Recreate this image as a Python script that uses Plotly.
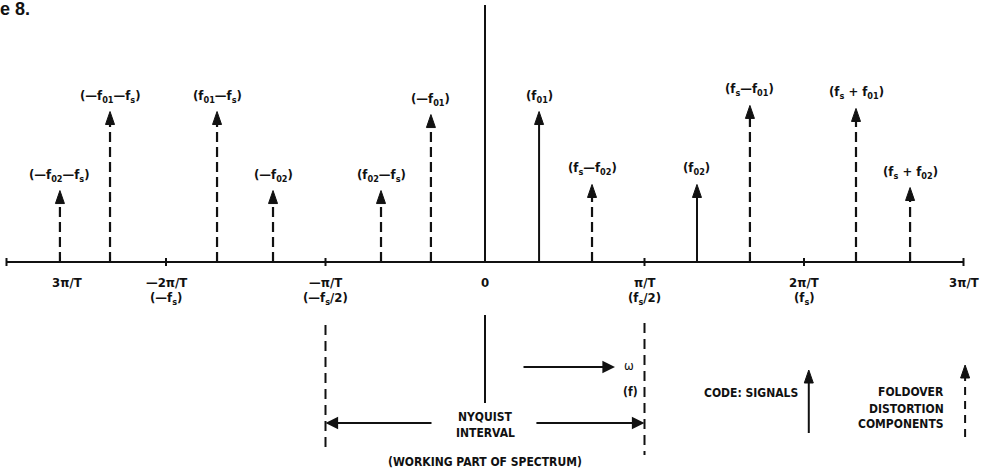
import plotly.graph_objects as go

# ---------------- data ----------------
arrow_labels = [
    "(—f<sub>02</sub>—f<sub>s</sub>)", "(—f<sub>01</sub>—f<sub>s</sub>)", "(f<sub>01</sub>—f<sub>s</sub>)",
    "(—f<sub>02</sub>)", "(f<sub>02</sub>—f<sub>s</sub>)", "(—f<sub>01</sub>)", "(f<sub>01</sub>)",
    "(f<sub>s</sub>—f<sub>02</sub>)", "(f<sub>02</sub>)", "(f<sub>s</sub>—f<sub>01</sub>)",
    "(f<sub>s</sub> + f<sub>01</sub>)", "(f<sub>s</sub> + f<sub>02</sub>)",
]
arrow_pos = [-2.665, -2.351, -1.680, -1.329, -0.652, -0.339, 0.339, 0.671, 1.329, 1.661, 2.326, 2.665]
arrow_height = [0.47, 0.99, 0.99, 0.47, 0.47, 0.97, 0.99, 0.51, 0.51, 1.03, 1.01, 0.49]
arrow_kind = ["fold", "fold", "fold", "fold", "fold", "fold", "signal", "fold", "signal", "fold", "fold", "fold"]

tick_pos = [-3, -2, -1, 1, 2, 3]
tick_label_pos = [-2.62, -2, -1, 0, 1, 2, 3]
tick_label_top = ["3π/T", "—2π/T", "—π/T", "0", "π/T", "2π/T", "3π/T"]
tick_label_bottom = ["", "(—f<sub>s</sub>)", "(—f<sub>s</sub>/2)", "", "(f<sub>s</sub>/2)", "(f<sub>s</sub>)", ""]

# ---------------- geometry / style ----------------
PXX = 159.5   # px per x unit
PXY = 152.0   # px per y unit
W, H = 985, 470
X0, Y0 = 485, 262
xr = [(0 - X0) / PXX, (W - X0) / PXX]
yr = [-(H - Y0) / PXY, Y0 / PXY]

HEAD_HW = 4.5 / PXX
HEAD_L = 13 / PXY

FONT = "Liberation Sans Narrow, DejaVu Sans Condensed, Arial Narrow, sans-serif"
BLACK = "#111111"

fig = go.Figure()


def add_arrow_set(xs, tips, dashed, width=2.0, base=None, dash="10px,5px"):
    sx, sy, hx, hy = [], [], [], []
    for i, (x, t) in enumerate(zip(xs, tips)):
        b = 0 if base is None else base[i]
        sx += [x, x, None]
        sy += [b, t - HEAD_L * 0.8, None]
        hx += [x - HEAD_HW, x + HEAD_HW, x, x - HEAD_HW, None]
        hy += [t - HEAD_L, t - HEAD_L, t, t - HEAD_L, None]
    fig.add_trace(go.Scatter(x=sx, y=sy, mode="lines", hoverinfo="skip",
                             line=dict(color=BLACK, width=width, dash=dash if dashed else "solid")))
    fig.add_trace(go.Scatter(x=hx, y=hy, mode="lines", fill="toself", fillcolor=BLACK,
                             hoverinfo="skip", line=dict(color=BLACK, width=1)))


# spectral arrows
sig_x = [p for p, k in zip(arrow_pos, arrow_kind) if k == "signal"]
sig_h = [h for h, k in zip(arrow_height, arrow_kind) if k == "signal"]
fold_x = [p for p, k in zip(arrow_pos, arrow_kind) if k == "fold"]
fold_h = [h for h, k in zip(arrow_height, arrow_kind) if k == "fold"]
add_arrow_set(sig_x, sig_h, dashed=False)
add_arrow_set(fold_x, fold_h, dashed=True, width=2.2)

# frequency axis line
fig.add_trace(go.Scatter(x=[-3, 3], y=[0, 0], mode="lines", hoverinfo="skip",
                         line=dict(color=BLACK, width=2)))
# ticks
tx, ty = [], []
for t in tick_pos:
    tx += [t, t, None]
    ty += [-4 / PXY, 4 / PXY, None]
fig.add_trace(go.Scatter(x=tx, y=ty, mode="lines", hoverinfo="skip", line=dict(color=BLACK, width=2)))

# centre (zero) line, upper and lower part
fig.add_trace(go.Scatter(x=[0, 0, None, 0, 0], y=[0, 257 / PXY, None, -53 / PXY, -141 / PXY],
                         mode="lines", hoverinfo="skip", line=dict(color=BLACK, width=2)))

# Nyquist boundaries (dashed)
fig.add_trace(go.Scatter(x=[-1.0, -1.0, None, 1.0, 1.0],
                         y=[-63 / PXY, -188 / PXY, None, -61 / PXY, -193 / PXY],
                         mode="lines", hoverinfo="skip",
                         line=dict(color=BLACK, width=2, dash="10px,6px")))

ann = []
# arrow labels
for x, h, lab in zip(arrow_pos, arrow_height, arrow_labels):
    ann.append(dict(x=x, y=h, text=lab, showarrow=False, yanchor="bottom", yshift=5,
                    font=dict(family=FONT, size=13, color=BLACK, weight="bold")))
# tick labels
for x, a, b in zip(tick_label_pos, tick_label_top, tick_label_bottom):
    ann.append(dict(x=x, y=0, text=a, showarrow=False, yanchor="middle", yshift=-20,
                    font=dict(family=FONT, size=13, color=BLACK, weight="bold")))
    if b:
        ann.append(dict(x=x, y=0, text=b, showarrow=False, yanchor="middle", yshift=-36,
                        font=dict(family=FONT, size=13, color=BLACK, weight="bold")))

# horizontal arrows (omega direction, nyquist interval)
def harrow(x_from, x_to, y):
    ann.append(dict(x=x_to, y=y, ax=x_from, ay=y, axref="x", ayref="y", xref="x", yref="y",
                    text="", showarrow=True, arrowhead=2, arrowsize=1.4, arrowwidth=1.8,
                    arrowcolor=BLACK, standoff=0))

harrow(0.232, 0.815, -105 / PXY)
harrow(-0.326, -1.0, -161 / PXY)
harrow(0.313, 1.0, -161 / PXY)

small = dict(family=FONT, size=12, color=BLACK, weight="bold")
ann += [
    dict(x=0.90, y=-103 / PXY, text="ω", showarrow=False, font=dict(family=FONT, size=13, color=BLACK)),
    dict(x=0.915, y=-130 / PXY, text="(f)", showarrow=False, font=small),
    dict(x=0.0, y=-155 / PXY, text="NYQUIST", showarrow=False, font=small),
    dict(x=0.0, y=-171 / PXY, text="INTERVAL", showarrow=False, font=small),
    dict(x=0.0, y=-200 / PXY, text="(WORKING PART OF SPECTRUM)", showarrow=False, font=small),
    dict(x=1.668, y=-131 / PXY, text="CODE: SIGNALS", showarrow=False, font=small),
    dict(x=2.89, y=-130 / PXY, text="FOLDOVER", showarrow=False, xanchor="right", font=small),
    dict(x=2.89, y=-147 / PXY, text="DISTORTION", showarrow=False, xanchor="right", font=small),
    dict(x=2.89, y=-162 / PXY, text="COMPONENTS", showarrow=False, xanchor="right", font=small),
    dict(x=0, y=1, xref="paper", yref="paper", text="e 8.", showarrow=False, xanchor="left",
         yanchor="top", yshift=3, xshift=-2,
         font=dict(family="Liberation Sans, Arial, sans-serif", size=18, color=BLACK, weight="bold")),
]

# legend arrows
add_arrow_set([2.03], [-108 / PXY], dashed=False, base=[-171 / PXY])
add_arrow_set([3.01], [-103 / PXY], dashed=True, base=[-175 / PXY], dash="8px,6px")

fig.update_layout(
    width=W, height=H, autosize=False,
    margin=dict(l=0, r=0, t=0, b=0),
    paper_bgcolor="white", plot_bgcolor="white",
    showlegend=False,
    xaxis=dict(range=xr, visible=False, fixedrange=True),
    yaxis=dict(range=yr, visible=False, fixedrange=True),
    annotations=ann,
)

fig.write_html("out.html", config={"displayModeBar": False},
               post_script="document.body.style.margin='0';")
